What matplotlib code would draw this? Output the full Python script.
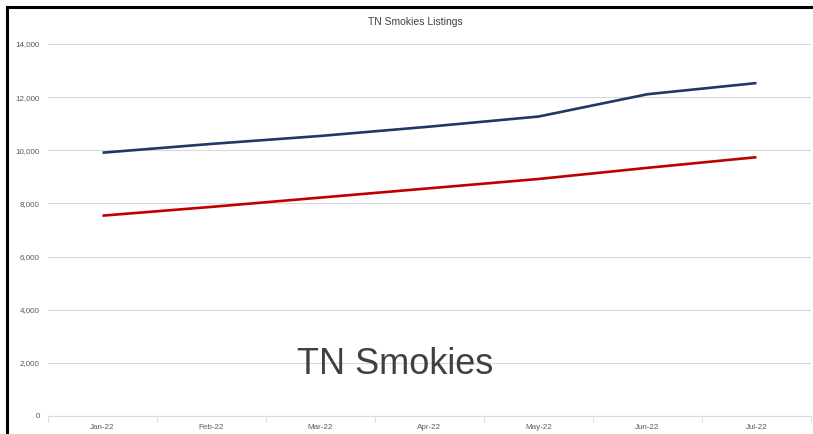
import numpy as np
import matplotlib.pyplot as plt
from matplotlib.lines import Line2D

# data
months = ["Jan-22", "Feb-22", "Mar-22", "Apr-22", "May-22", "Jun-22", "Jul-22"]
series_a = [9910, 10240, 10540, 10890, 11270, 12110, 12530]
series_b = [7540, 7870, 8220, 8570, 8920, 9340, 9740]
y_ticks = [0, 2000, 4000, 6000, 8000, 10000, 12000, 14000]

W, H = 813, 434
fig = plt.figure(figsize=(W / 100, H / 100), dpi=100)
ax = fig.add_axes([48 / W, 1 - 416 / H, (811 - 48) / W, (416 - 44) / H])

x = np.arange(len(months))
ax.plot(x, series_a, color="#203864", lw=1.9, solid_capstyle="butt")
ax.plot(x, series_b, color="#C00000", lw=1.9, solid_capstyle="butt")

ax.set_xlim(-0.5, len(months) - 0.5)
ax.set_ylim(0, 14000)
ax.set_yticks(y_ticks)
ax.set_yticklabels([f"{v:,}" for v in y_ticks])
ax.set_xticks(x)
ax.set_xticklabels(months)
ax.set_xticks(np.arange(len(months) + 1) - 0.5, minor=True)

lab_font = ["Liberation Sans", "DejaVu Sans"]
for t in ax.get_xticklabels() + ax.get_yticklabels():
    t.set_fontfamily(lab_font)
    t.set_fontsize(5.8)
    t.set_color("#595959")

ax.tick_params(axis="x", which="major", length=0, pad=6)
ax.tick_params(axis="x", which="minor", length=4, color="#D9D9D9")
ax.tick_params(axis="y", length=0, pad=6)

ax.grid(axis="y", color="#D9D9D9", lw=0.8)
ax.set_axisbelow(True)
for s in ["top", "right", "left"]:
    ax.spines[s].set_visible(False)
ax.spines["bottom"].set_color("#D9D9D9")
ax.spines["bottom"].set_linewidth(0.8)

fig.text(415 / W, 1 - 22 / H, "TN Smokies Listings", ha="center", va="center",
         fontsize=7.5, color="#404040", family=lab_font)
fig.text(395 / W, 1 - 365 / H, "TN Smokies", ha="center", va="center",
         fontsize=26, color="#404040", family="Liberation Sans")

# black frame on the top and left edges
fig.add_artist(Line2D([7 / W, 1], [1 - 7 / H, 1 - 7 / H], color="black", lw=2.2))
fig.add_artist(Line2D([7 / W, 7 / W], [0, 1 - 7 / H], color="black", lw=2.2))

fig.savefig("out.png", dpi=100)
plt.close(fig)
